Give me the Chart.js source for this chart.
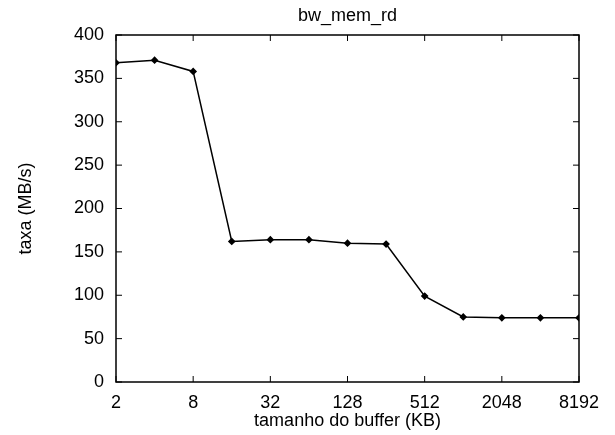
<!DOCTYPE html>
<html><head><meta charset="utf-8">
<script src="https://cdn.jsdelivr.net/npm/chart.js@4"></script>
<style>html,body{margin:0;padding:0;background:#fff}#w{width:615px;height:435px}</style>
</head><body><div id="w"><canvas id="c" width="615" height="435"></canvas></div>
<script>
const bufferSizes = [2,4,8,16,32,64,128,256,512,1024,2048,4096,8192];
const rates = [368,371,358,162,164,164,160,159,99,75,74,74,74];
const xTicks = [2,8,32,128,512,2048,8192];
const yTicks = [0,50,100,150,200,250,300,350,400];
const FONT = "'Liberation Sans', Arial, Helvetica, sans-serif";

const frame = {
  id:'frame',
  afterDraw(chart){
    const {ctx, chartArea:a, scales} = chart;
    ctx.save();
    ctx.strokeStyle='#000';
    ctx.lineWidth=1.5;
    ctx.strokeRect(a.left,a.top,a.right-a.left,a.bottom-a.top);
    ctx.lineWidth=1;
    const L=6;
    ctx.beginPath();
    xTicks.forEach(v=>{const p=scales.x.getPixelForValue(v);
      ctx.moveTo(p,a.bottom);ctx.lineTo(p,a.bottom-L);
      ctx.moveTo(p,a.top);ctx.lineTo(p,a.top+L);});
    yTicks.forEach(v=>{const p=scales.y.getPixelForValue(v);
      ctx.moveTo(a.left,p);ctx.lineTo(a.left+L,p);
      ctx.moveTo(a.right,p);ctx.lineTo(a.right-L,p);});
    ctx.stroke();
    ctx.restore();
  }
};

new Chart(document.getElementById('c'),{
  type:'line',
  data:{datasets:[{
    data: bufferSizes.map((s,i)=>({x:s,y:rates[i]})),
    borderColor:'#000', borderWidth:1.5,
    pointStyle:'rectRot', pointRadius:2.8, pointBackgroundColor:'#000', pointBorderColor:'#000',
    tension:0
  }]},
  options:{
    responsive:false, animation:false,
    layout:{padding:{left:0,right:36,top:0,bottom:0}},
    plugins:{
      legend:{display:false}, tooltip:{enabled:false},
      title:{display:true,fullSize:false,text:'bw_mem_rd',color:'#000',font:{family:FONT,size:18,weight:'normal'},padding:{top:5,bottom:8.4}}
    },
    scales:{
      x:{type:'logarithmic',min:2,max:8192,
        afterBuildTicks(s){s.ticks=xTicks.map(v=>({value:v}));},
        afterFit(s){s.height=53;},
        grid:{display:false,drawTicks:false},border:{display:false},
        ticks:{color:'#000',font:{family:FONT,size:18},padding:10.7,maxRotation:0,autoSkip:false,callback:v=>String(v)},
        title:{display:true,text:'tamanho do buffer (KB)',color:'#000',font:{family:FONT,size:18},padding:{top:0,bottom:3.5}}
      },
      y:{min:0,max:400,
        afterBuildTicks(s){s.ticks=yTicks.map(v=>({value:v}));},
        afterFit(s){s.width=116;},
        grid:{display:false,drawTicks:false},border:{display:false},
        ticks:{color:'#000',font:{family:FONT,size:18},padding:12},
        title:{display:true,text:'taxa (MB/s)',color:'#000',font:{family:FONT,size:18},padding:{top:15.2,bottom:15.2}}
      }
    }
  },
  plugins:[frame]
});
</script></body></html>
